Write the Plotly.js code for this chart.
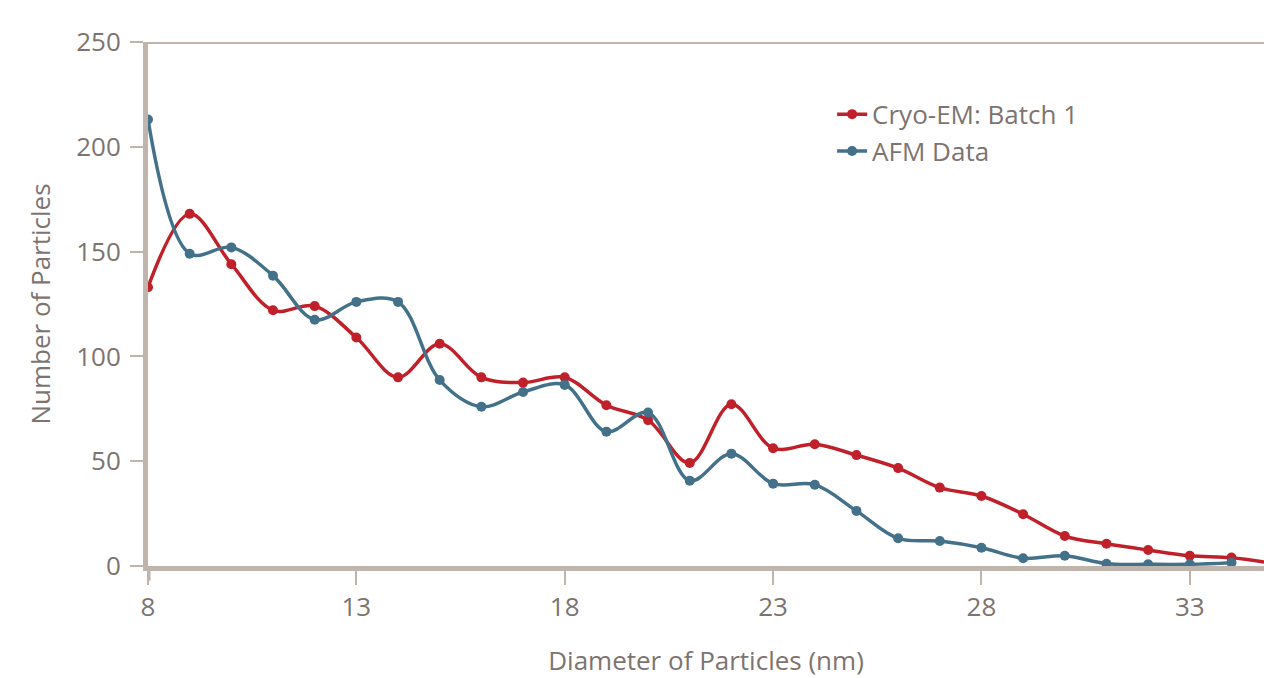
<!DOCTYPE html>
<html>
<head>
<meta charset="utf-8">
<script src="https://cdn.plot.ly/plotly-3.0.1.min.js"></script>
<style>html,body{margin:0;padding:0;background:#fff;}#chart{width:1264px;height:678px;}</style>
</head>
<body>
<div id="chart"></div>
<script>
const diameters = [8,9,10,11,12,13,14,15,16,17,18,19,20,21,22,23,24,25,26,27,28,29,30,31,32,33,34,35];
const cryoEM = [133,168,144,122,124,109,90,106,90,87.5,90,76.7,69.6,49.2,77.2,56.2,58.1,52.9,46.7,37.4,33.4,24.7,14.3,10.6,7.6,4.9,4.0,1.2];
const afmDiameters = [8,9,10,11,12,13,14,15,16,17,18,19,20,21,22,23,24,25,26,27,28,29,30,31,32,33,34];
const afm = [213,149,152,138.5,117.5,126,126,88.7,76,83,86.4,64.1,73.2,40.7,53.6,39.3,38.8,26.3,13.2,11.9,8.7,3.7,4.9,1.1,0.8,0.8,1.6];
const xTicks = [8,13,18,23,28,33];
const yTicks = [0,50,100,150,200,250];

const axisColor = '#c0b5ad';
const textColor = '#7d7470';
const font = 'Open Sans, sans-serif';

const traces = [
  {x: diameters, y: cryoEM, name: 'Cryo-EM: Batch 1', type: 'scatter', mode: 'lines+markers',
   line: {color: '#c0202a', width: 3.5, shape: 'spline', smoothing: 1}, marker: {color: '#c0202a', size: 10}, cliponaxis: false},
  {x: afmDiameters, y: afm, name: 'AFM Data', type: 'scatter', mode: 'lines+markers',
   line: {color: '#44718a', width: 3.5, shape: 'spline', smoothing: 1}, marker: {color: '#44718a', size: 10}, cliponaxis: false}
];

const layout = {
  width: 1264, height: 678,
  margin: {l: 148, r: 0, t: 42, b: 112},
  paper_bgcolor: '#fff', plot_bgcolor: '#fff',
  font: {family: font, color: textColor, size: 26},
  showlegend: true,
  legend: {x: 0.613, y: 0.907, xanchor: 'left', yanchor: 'top', font: {size: 26, color: textColor, family: font},
           itemwidth: 30, bgcolor: 'rgba(0,0,0,0)', tracegroupgap: 0},
  xaxis: {
    range: [8, 34.78], tickvals: xTicks, ticktext: xTicks.map(String),
    showgrid: false, zeroline: false,
    showline: true, linecolor: axisColor, linewidth: 5, mirror: false,
    ticks: 'outside', ticklen: 14, tickwidth: 2, tickcolor: axisColor,
    tickfont: {size: 26, color: textColor, family: font},
    title: {text: 'Diameter of Particles (nm)', font: {size: 26, color: textColor, family: font}, standoff: 31}
  },
  yaxis: {
    range: [0, 250], tickvals: yTicks, ticktext: yTicks.map(String),
    showgrid: false, zeroline: false,
    showline: true, linecolor: axisColor, linewidth: 5,
    ticks: 'outside', ticklen: 13, tickwidth: 2, tickcolor: axisColor,
    ticklabelstandoff: 4,
    tickfont: {size: 26, color: textColor, family: font},
    title: {text: 'Number of Particles', font: {size: 26, color: textColor, family: font}, standoff: 20}
  },
  shapes: [
    {type: 'line', xref: 'paper', yref: 'y', x0: 0, x1: 1, y0: 250, y1: 250, line: {color: axisColor, width: 4}},
    {type: 'line', xref: 'x', yref: 'paper', x0: 8, x1: 8, y0: 0, y1: -0.028, line: {color: axisColor, width: 5}}
  ]
};

Plotly.newPlot('chart', traces, layout, {displayModeBar: false, staticPlot: true});
</script>
</body>
</html>
